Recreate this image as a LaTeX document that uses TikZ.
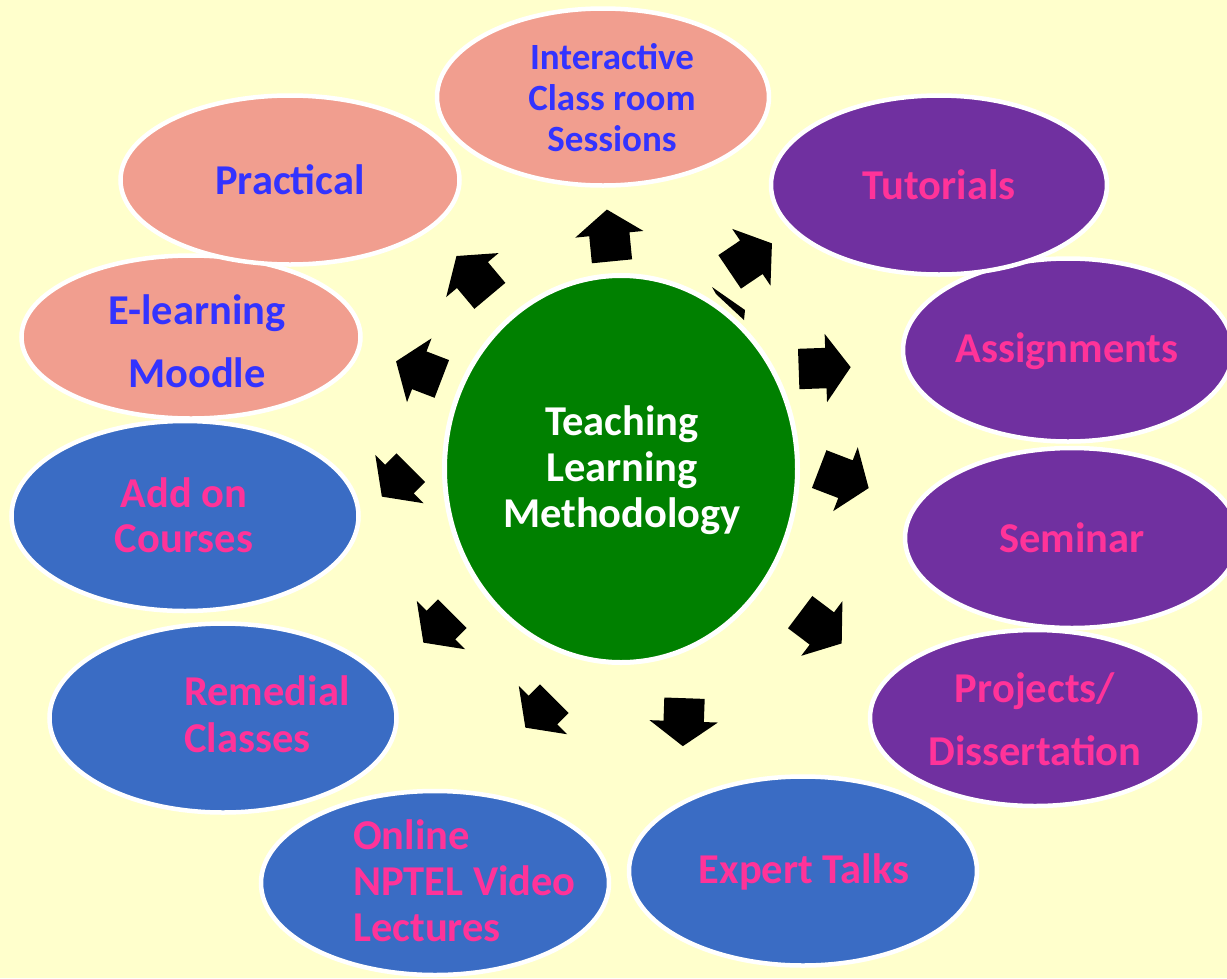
\documentclass[tikz,border=0pt]{standalone}
\usepackage{fontspec}
\setmainfont{Carlito}
\usepackage{tikz}
\usetikzlibrary{shapes.geometric,shapes.arrows}
\usepackage{xcolor}

\definecolor{bgyellow}{HTML}{FFFFCC}
\definecolor{salmon}{HTML}{F19E8F}
\definecolor{mblue}{HTML}{3A6CC4}
\definecolor{mpurple}{HTML}{7030A0}
\definecolor{mgreen}{HTML}{008000}
\definecolor{txtblue}{HTML}{3333FF}
\definecolor{txtpink}{HTML}{FF3399}

\tikzset{
	bubble/.style={ellipse, draw=white, line width=4.5pt, inner sep=0pt},
	lbl/.style={font=\bfseries\fontsize{42.5}{46}\selectfont, align=center, inner sep=0pt},
	blockarr/.style={single arrow, fill=black, draw=none, inner xsep=0pt, inner ysep=20pt,
		single arrow head extend=14pt, single arrow tip angle=108, single arrow head indent=0pt, anchor=tail}
}

\begin{document}
\begin{tikzpicture}[x=1pt,y=-1pt]
	\fill[bgyellow] (0,0) rectangle (1227,978);
	\useasboundingbox (0,0) rectangle (1227,978);
	%%%%% blue ones
	\node[bubble, fill=mblue, minimum width=348pt, minimum height=184pt] (online) at (435,883) {};
	\node[bubble, fill=mblue, minimum width=348pt, minimum height=189pt] (expert) at (803,871) {};
	\node[bubble, fill=mblue, minimum width=347pt, minimum height=189pt] (remedial) at (223,718) {};
	\node[bubble, fill=mblue, minimum width=347pt, minimum height=190pt] (addon) at (185,516) {};
	%%%%% salmon ones
	\node[bubble, fill=salmon, minimum width=339pt, minimum height=163pt] (elearning) at (191,337) {};
	\node[bubble, fill=salmon, minimum width=339pt, minimum height=169pt] (practical) at (290,180) {};
	\node[bubble, fill=salmon, minimum width=332pt, minimum height=177pt] (interactive) at (603,97) {};
	%%%%% purple ones
	\node[bubble, fill=mpurple, minimum width=330pt, minimum height=176pt] (projects) at (1035,718) {};
	\node[bubble, fill=mpurple, minimum width=334pt, minimum height=180pt] (seminar) at (1072,538) {};
	\node[bubble, fill=mpurple, minimum width=330pt, minimum height=183pt] (assignments) at (1068,350) {};
	\node[bubble, fill=mpurple, minimum width=336pt, minimum height=179pt] (tutorials) at (939,185) {};
	%%%%% centre
	\node[bubble, fill=mgreen, line width=5pt, minimum width=353pt, minimum height=387pt] (tlm) at (621,469) {};
	%%%%% texts
	\node[lbl, txtblue, font=\bfseries\fontsize{37}{41}\selectfont] (interactive-t) at (612,98) {Interactive\\Class room\\Sessions};
	\node[lbl, txtblue] (practical-t) at (290,180) {Practical};
	\node[lbl, txtblue, font=\bfseries\fontsize{42.5}{63}\selectfont] (elearning-t) at (197,341) {E-learning\\Moodle};
	\node[lbl, txtpink, font=\bfseries\fontsize{42.5}{45}\selectfont] (addon-t) at (184,515) {Add on\\Courses};
	\node[lbl, txtpink, align=left, anchor=west, font=\bfseries\fontsize{42.5}{47}\selectfont] (remedial-t) at (184,714) {Remedial\\Classes};
	\node[lbl, txtpink, align=left, anchor=west] (online-t) at (353,881) {Online\\NPTEL Video\\Lectures};
	\node[lbl, txtpink] (expert-t) at (804,872) {Expert Talks};
	\node[lbl, txtpink, font=\bfseries\fontsize{42.5}{63}\selectfont] (projects-t) at (1035,719) {Projects/\\Dissertation};
	\node[lbl, txtpink] (seminar-t) at (1072,538) {Seminar};
	\node[lbl, txtpink] (assignments-t) at (1067,351) {Assignments};
	\node[lbl, txtpink] (tutorials-t) at (939,185) {Tutorials};
	\node[lbl, white] (tlm-t) at (622,470) {Teaching\\Learning\\Methodology};
	%%%%% arrows
	\node[blockarr, minimum height=52pt, rotate=95.6] (a1) at (612,261.5) {};
	\node[blockarr, minimum height=51pt, rotate=34] (a2) at (729.5,272) {};
	\node[blockarr, minimum height=52pt, rotate=2] (a3) at (798.5,369) {};
	\node[blockarr, minimum height=53pt, rotate=-21] (a4) at (819,469) {};
	\node[blockarr, minimum height=52pt, rotate=-37] (a5) at (800,612) {};
	\node[blockarr, minimum height=48pt, rotate=-92] (a6) at (684.5,698) {};
	\node[blockarr, minimum height=41pt, rotate=225] (a7) at (554.5,698.5) {};
	\node[blockarr, minimum height=41pt, rotate=225] (a8) at (452.5,613.5) {};
	\node[blockarr, minimum height=41pt, rotate=225] (a9) at (411,467.5) {};
	\node[blockarr, minimum height=49pt, rotate=159] (a10) at (442,379) {};
	\node[blockarr, minimum height=52pt, rotate=130] (a11) at (490,296) {};
	\fill[black] (712,287) -- (745,310) -- (744,320) -- (716,294) -- cycle;
\end{tikzpicture}
\end{document}
